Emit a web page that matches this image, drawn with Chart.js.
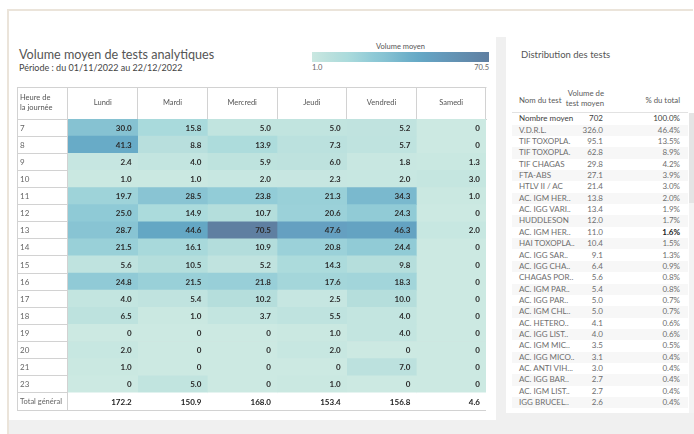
<!DOCTYPE html>
<html><head><meta charset="utf-8">
<script src="https://cdn.jsdelivr.net/npm/chart.js@4.4.1/dist/chart.umd.min.js"></script>
<style>
html,body{margin:0;padding:0;}
body{width:694px;height:434px;position:relative;overflow:hidden;background:#fff;font-family:Lato,"Open Sans",sans-serif;}
.abs{position:absolute;}
.row{position:absolute;left:512px;width:176px;height:11.35px;line-height:11.35px;font-size:8px;color:#6e6e6e;}
.row span{position:absolute;top:0;white-space:nowrap;}
</style></head><body>
<div class="abs" style="left:9px;top:420px;width:685px;height:14px;background:#f0f0f0"></div>
<div class="abs" style="left:496px;top:37px;width:10px;height:397px;background:#f0f0f0"></div>
<div class="abs" style="left:506px;top:413px;width:188px;height:21px;background:#f0f0f0"></div>
<div class="abs" style="left:7px;top:9px;width:686px;height:2px;background:#ebe4da"></div>
<div class="abs" style="left:7px;top:9px;width:2px;height:425px;background:#ebe4da"></div>

<div class="abs" style="left:19px;top:48px;font-size:12.6px;color:#555;white-space:nowrap;line-height:14px">Volume moyen de tests analytiques</div>
<div class="abs" style="left:19px;top:62px;font-size:9px;color:#444;white-space:nowrap;line-height:11px">Période : du 01/11/2022 au 22/12/2022</div>

<div class="abs" style="left:312px;top:42px;width:177px;text-align:center;font-size:7.5px;color:#555;line-height:9px">Volume moyen</div>
<div id="legendBar" class="abs" style="left:312px;top:52px;width:177px;height:10px"></div>
<div id="legMin" class="abs" style="left:312px;top:63px;font-size:7.5px;color:#666;line-height:9px"></div>
<div id="legMax" class="abs" style="left:312px;top:63px;width:177px;text-align:right;font-size:7.5px;color:#666;line-height:9px"></div>

<div class="abs" style="left:17px;top:87px;width:470px;height:324px">
<canvas id="heat" width="470" height="324"></canvas>
</div>

<div class="abs" style="left:521px;top:49px;font-size:9.5px;color:#555;white-space:nowrap;line-height:12px">Distribution des tests</div>
<div class="abs" style="left:519px;top:95px;font-size:7.8px;color:#5a5a5a;line-height:10px">Nom du test</div>
<div class="abs" style="left:560px;top:88px;width:44px;text-align:right;font-size:7.8px;color:#5a5a5a;line-height:10px">Volume de<br>test moyen</div>
<div class="abs" style="left:620px;top:95px;width:60px;text-align:right;font-size:7.8px;color:#5a5a5a;line-height:10px">% du total</div>
<div class="abs" style="left:512px;top:112px;width:176px;height:1px;background:#e2e2e2"></div>
<div class="abs" style="left:689px;top:113px;width:5px;height:300px;background:#f3f3f3"></div>
<div class="abs" style="left:689px;top:113px;width:5px;height:90px;background:#e4e4e4"></div>
<div id="rtable"></div>

<script>
const hours = ['7','8','9','10','11','12','13','14','15','16','17','18','19','20','21','23'];
const days = ['Lundi','Mardi','Mercredi','Jeudi','Vendredi','Samedi'];
const lundi    = [30.0, 41.3, 2.4, 1.0, 19.7, 25.0, 28.7, 21.5, 5.6, 24.8, 4.0, 6.5, 0, 2.0, 1.0, 0];
const mardi    = [15.8, 8.8, 4.0, 1.0, 28.5, 14.9, 44.6, 16.1, 10.5, 21.5, 5.4, 1.0, 0, 0, 0, 5.0];
const mercredi = [5.0, 13.9, 5.9, 2.0, 23.8, 10.7, 70.5, 10.9, 5.2, 21.8, 10.2, 3.7, 0, 0, 0, 0];
const jeudi    = [5.0, 7.3, 6.0, 2.3, 21.3, 20.6, 47.6, 20.8, 14.3, 17.6, 2.5, 5.5, 1.0, 2.0, 0, 1.0];
const vendredi = [5.2, 5.7, 1.8, 2.0, 34.3, 24.3, 46.3, 24.4, 9.8, 18.3, 10.0, 4.0, 4.0, 0, 7.0, 0];
const samedi   = [0, 0, 1.3, 3.0, 1.0, 0, 2.0, 0, 0, 0, 0, 0, 0, 0, 0, 0];
const totals   = [172.2, 150.9, 168.0, 153.4, 156.8, 4.6];
const totalLabel = 'Total général';
const legendMin = 1.0, legendMax = 70.5;

const testNames = ['Nombre moyen','V.D.R.L.','TIF TOXOPLA.','TIF TOXOPLA.','TIF CHAGAS','FTA-ABS','HTLV II / AC','AC. IGM HER..','AC. IGG VARI..','HUDDLESON','AC. IGM HER..','HAI TOXOPLA..','AC. IGG SAR..','AC. IGG CHA..','CHAGAS POR..','AC. IGM PAR..','AC. IGG PAR..','AC. IGM CHL..','AC. HETERO..','AC. IGG LIST..','AC. IGM MIC..','AC. IGG MICO..','AC. ANTI VIH...','AC. IGG BAR..','AC. IGM LIST..','IGG BRUCEL..'];
const testVolumes = [702, 326.0, 95.1, 62.8, 29.8, 27.1, 21.4, 13.8, 13.4, 12.0, 11.0, 10.4, 9.1, 6.4, 5.6, 5.4, 5.0, 5.0, 4.1, 4.0, 3.5, 3.1, 3.0, 2.7, 2.7, 2.6];
const testPcts = [100.0, 46.4, 13.5, 8.9, 4.2, 3.9, 3.0, 2.0, 1.9, 1.7, 1.6, 1.5, 1.3, 0.9, 0.8, 0.8, 0.7, 0.7, 0.6, 0.6, 0.5, 0.4, 0.4, 0.4, 0.4, 0.4];

const dayValues = [lundi, mardi, mercredi, jeudi, vendredi, samedi];
const rowLabels = [...hours, totalLabel];

// colour ramp (value -> rgb)
const stops = [
  [0, [204,233,226]], [10, [181,222,220]], [15, [171,219,220]], [20, [157,210,217]],
  [25, [143,202,214]], [30, [134,194,210]], [41, [104,171,199]], [45, [100,166,196]],
  [48, [101,159,192]], [70.5, [95,127,161]]
];
function colorFor(v){
  if (v <= stops[0][0]) return 'rgb(' + stops[0][1].join(',') + ')';
  for (let i = 1; i < stops.length; i++){
    if (v <= stops[i][0]){
      const [a, ca] = stops[i-1], [b, cb] = stops[i];
      const t = (v - a) / (b - a);
      const c = ca.map((x, k) => Math.round(x + (cb[k] - x) * t));
      return 'rgb(' + c.join(',') + ')';
    }
  }
  return 'rgb(' + stops[stops.length-1][1].join(',') + ')';
}

// legend gradient
(function(){
  const parts = [];
  for (let i = 0; i <= 20; i++){
    const v = legendMin + (legendMax - legendMin) * i / 20;
    parts.push(colorFor(v) + ' ' + (i * 5) + '%');
  }
  document.getElementById('legendBar').style.background = 'linear-gradient(to right,' + parts.join(',') + ')';
  document.getElementById('legMin').textContent = legendMin.toFixed(1);
  document.getElementById('legMax').textContent = legendMax.toFixed(1);
})();

// right table
(function(){
  const host = document.getElementById('rtable');
  const pitch = 11.35, top0 = 113.3;
  testNames.forEach((n, i) => {
    const r = document.createElement('div');
    r.className = 'row';
    r.style.top = (top0 + i * pitch) + 'px';
    r.style.background = (i % 2 === 1) ? '#f7f7f7' : '#fff';
    if (i === 0) r.style.color = '#404040';
    const vol = i === 0 ? String(testVolumes[i]) : testVolumes[i].toFixed(1);
    const s1 = document.createElement('span'); s1.style.left = '7px'; s1.textContent = n;
    const s2 = document.createElement('span'); s2.style.left = '0'; s2.style.width = '91px'; s2.style.textAlign = 'right'; s2.textContent = vol;
    const s3 = document.createElement('span'); s3.style.left = '0'; s3.style.width = '168px'; s3.style.textAlign = 'right'; s3.textContent = testPcts[i].toFixed(1) + '%';
    if (i === 10){ s3.style.color = '#222'; s3.style.fontWeight = 'bold'; }
    r.append(s1, s2, s3);
    host.appendChild(r);
  });
})();

const FONT = 'Lato, "Open Sans", sans-serif';
const LINE = '#d2d2d2';

const datasets = days.map((d, di) => ({
  label: d,
  data: rowLabels.map((r, ri) => ({
    y: r,
    x: [di, di + 1],
    v: ri < hours.length ? dayValues[di][ri] : totals[di],
    total: ri >= hours.length
  })),
  backgroundColor: ctx => ctx.raw && ctx.raw.total ? '#ffffff' : colorFor(ctx.raw ? ctx.raw.v : 0),
  borderWidth: 0,
  barPercentage: 1,
  categoryPercentage: 1,
  grouped: false
}));

const textPlugin = {
  id: 'tableText',
  afterDraw(chart){
    const ctx = chart.ctx;
    const xs = chart.scales.x, ys = chart.scales.y;
    const area = chart.chartArea;
    ctx.save();
    ctx.strokeStyle = LINE; ctx.lineWidth = 1;
    ctx.beginPath();
    ctx.moveTo(0, 0.5); ctx.lineTo(area.right + 0.5, 0.5);
    ctx.moveTo(0.5, 0); ctx.lineTo(0.5, area.bottom + 0.5);
    ctx.stroke();
    ctx.fillStyle = '#555';
    ctx.font = '7.5px ' + FONT;
    ctx.textAlign = 'left'; ctx.textBaseline = 'middle';
    ctx.fillText('Heure de', 3, 11);
    ctx.fillText('la journée', 3, 21);
    ctx.textAlign = 'center';
    days.forEach((d, i) => {
      ctx.fillText(d, (xs.getPixelForValue(i) + xs.getPixelForValue(i + 1)) / 2, area.top / 2);
    });
    ctx.textAlign = 'left';
    rowLabels.forEach((r, i) => {
      ctx.fillStyle = '#666';
      ctx.font = (i < hours.length ? '8px ' : '7.5px ') + FONT;
      ctx.fillText(r, 3, ys.getPixelForValue(i) + 0.5);
    });
    ctx.textAlign = 'right';
    chart.data.datasets.forEach((ds, di) => {
      ds.data.forEach((p, ri) => {
        ctx.fillStyle = p.total ? '#222' : '#2b2b2b';
        ctx.font = 'bold 8px ' + FONT;
        const txt = p.v === 0 ? '0' : p.v.toFixed(1);
        ctx.fillText(txt, xs.getPixelForValue(di + 1) - 6, ys.getPixelForValue(ri) + 0.5);
      });
    });
    ctx.restore();
  }
};

new Chart(document.getElementById('heat'), {
  type: 'bar',
  data: { labels: rowLabels, datasets },
  options: {
    indexAxis: 'y',
    responsive: false,
    animation: false,
    devicePixelRatio: 1,
    layout: { padding: { left: 0, top: 0, right: 1, bottom: 1 } },
    plugins: { legend: { display: false }, tooltip: { enabled: false } },
    scales: {
      x: { type: 'linear', min: 0, max: days.length, display: false },
      xTop: {
        type: 'category', labels: days, position: 'top', offset: true, z: 1,
        grid: { offset: true, color: LINE, tickLength: 32, drawTicks: true },
        border: { color: LINE },
        ticks: { display: false },
        afterFit: s => { s.height = 32; }
      },
      y: {
        type: 'category', labels: rowLabels, offset: true, z: 1,
        grid: { offset: true, color: LINE, tickLength: 51, drawTicks: true },
        border: { color: LINE },
        ticks: { display: false },
        afterFit: s => { s.width = 51; }
      }
    }
  },
  plugins: [textPlugin]
});
</script>
</body></html>
